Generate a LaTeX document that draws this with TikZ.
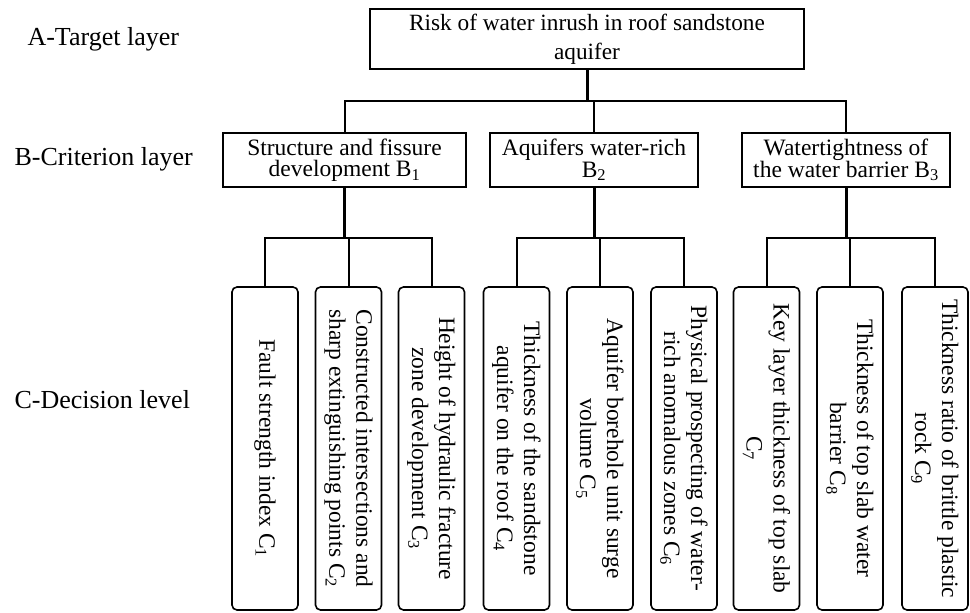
\documentclass[tikz,border=0pt]{standalone}
\usepackage{fontspec}
\setmainfont{Liberation Serif}
\usepackage{tikz}
\usetikzlibrary{calc}

\begin{document}
\begin{tikzpicture}[
  x=1pt,y=-1pt,
  layer/.style={anchor=west,font=\fontsize{26}{29}\selectfont},
  goalbox/.style={rectangle,draw,line width=1.6pt,align=center,minimum width=434,minimum height=60,inner sep=2pt,font=\fontsize{23.3}{29}\selectfont},
  critbox/.style={rectangle,draw,line width=1.6pt,align=center,minimum height=54,inner sep=2pt,font=\fontsize{23.5}{21.5}\selectfont},
  decbox/.style={rectangle,draw,rounded corners=5pt,line width=1.6pt,align=center,rotate=-90,minimum width=323,minimum height=66,inner sep=1pt,font=\fontsize{23.5}{27}\selectfont},
  link/.style={line width=2pt},
  trunk/.style={line width=3pt}]
\useasboundingbox (0,0) rectangle (970,613);
% layer names
\node[layer] (la) at (24,39) {A-Target layer};
\node[layer] (lb) at (11,159) {B-Criterion layer};
\node[layer] (lc) at (11,400) {C-Decision level};
% target
\node[goalbox] (risk) at (587,39) {Risk of water inrush in roof sandstone\\aquifer};
% criteria
\node[critbox,minimum width=243] (b1) at (344.5,160) {Structure and fissure\\development B\textsubscript{1}};
\node[critbox,minimum width=208] (b2) at (594,160) {Aquifers water-rich\\B\textsubscript{2}};
\node[critbox,minimum width=208] (b3) at (846,160) {Watertightness of\\the water barrier B\textsubscript{3}};
% decisions
\node[decbox] (c1) at (265,448.5) {Fault strength index C\textsubscript{1}};
\node[decbox] (c2) at (348.5,448.5) {Constructed intersections and\\sharp extinguishing points C\textsubscript{2}};
\node[decbox] (c3) at (431.5,448.5) {Height of hydraulic fracture\\zone development C\textsubscript{3}};
\node[decbox] (c4) at (516.5,448.5) {Thickness of the sandstone\\aquifer on the roof C\textsubscript{4}};
\node[decbox] (c5) at (600,448.5) {Aquifer borehole unit surge\\volume C\textsubscript{5}};
\node[decbox] (c6) at (684,448.5) {Physical prospecting of water-\\rich anomalous zones C\textsubscript{6}};
\node[decbox] (c7) at (766.5,448.5) {Key layer thickness of top slab\\C\textsubscript{7}};
\node[decbox] (c8) at (850,448.5) {Thickness of top slab water\\barrier C\textsubscript{8}};
\node[decbox] (c9) at (935,448.5) {Thickness ratio of brittle plastic\\rock C\textsubscript{9}};
% A -> B
\coordinate (abar) at ($(risk.south)+(0,31)$);
\draw[trunk] (risk.south) -- (abar);
\draw[link] (b1.north) |- (abar) -| (b3.north);
\draw[link] (b2.north) -- (b2.north |- abar);
% B -> C
\foreach \b/\l/\m/\r in {b1/c1/c2/c3,b2/c4/c5/c6,b3/c7/c8/c9}{
  \draw[trunk] (\b.south) -- ++(0,50) coordinate (\b bar);
  \draw[link] (\l.west) |- (\b bar) -| (\r.west);
  \draw[link] (\m.west) -- (\m.west |- \b bar);
}
\end{tikzpicture}
\end{document}
